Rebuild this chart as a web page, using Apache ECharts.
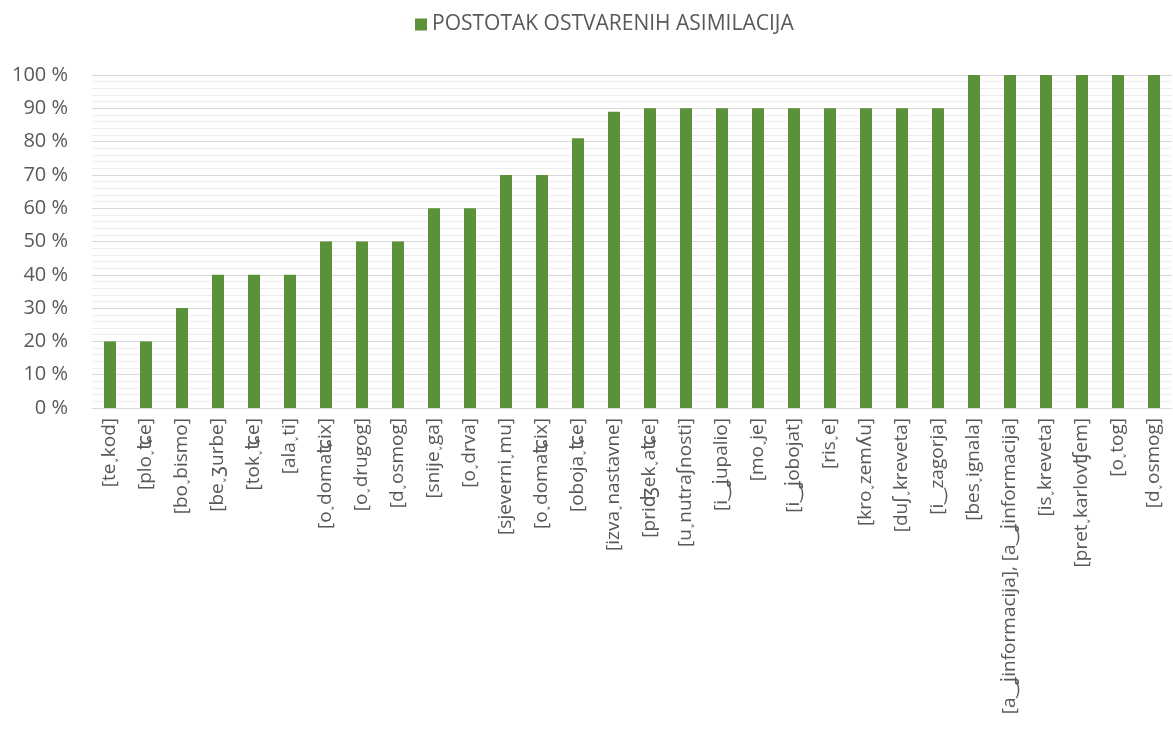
<!DOCTYPE html>
<html><head><meta charset="utf-8">
<script src="https://cdn.jsdelivr.net/npm/echarts@6/dist/echarts.min.js"></script>
<style>html,body{margin:0;padding:0;background:#fff}#c{width:1173px;height:731px}</style>
</head><body><div id="c"></div>
<script>
const categories = [
  "[te˯kod]","[plo˯ʨe]","[bo˯bismo]","[be˯ʒurbe]","[tok˯ʨe]","[ala˯ti]",
  "[o˯domaʨix]","[o˯drugog]","[d˯osmog]","[snije˯ga]","[o˯drva]","[sjeverni˯mu]",
  "[o˯domaʨix]","[oboja˯ʨe]","[izva˯nastavne]","[priʤek˯aʨe]","[u˯nutraʃnosti]","[i‿ʝupalio]",
  "[mo˯je]","[i‿ʝobojat]","[ris˯e]","[kro˯zemʎu]","[duʃ˯kreveta]","[i‿zagorja]",
  "[bes˯ignala]","[a‿ʝinformacija], [a‿ʝinformacija]","[is˯kreveta]","[pret˯karlovʧem]","[o˯tog]","[d˯osmog]"
];
const values = [20,20,30,40,40,40,50,50,50,60,60,70,70,81,89,90,90,90,90,90,90,90,90,90,100,100,100,100,100,100];
const seriesName = "POSTOTAK OSTVARENIH ASIMILACIJA";
const font = "'Open Sans', 'DejaVu Sans', sans-serif";
const chart = echarts.init(document.getElementById('c'));
chart.setOption({
  animation:false,
  textStyle:{fontFamily:font},
  legend:{top:9,left:410,icon:'rect',itemWidth:12,itemHeight:12,itemGap:6,
    textStyle:{fontSize:21,color:'#595959',fontFamily:font},data:[seriesName]},
  grid:{left:92,right:1,top:75,bottom:323},
  xAxis:{type:'category',data:categories,
    axisLine:{lineStyle:{color:'#d9d9d9'}},axisTick:{show:false},
    axisLabel:{rotate:90,interval:0,fontSize:19,color:'#595959',fontFamily:font,margin:10}},
  yAxis:{type:'value',min:0,max:100,interval:10,
    axisLabel:{formatter:'{value} %',fontSize:20,color:'#595959',fontFamily:font,margin:24},
    axisLine:{show:false},axisTick:{show:false},
    splitLine:{lineStyle:{color:'#d9d9d9',width:1}},
    minorTick:{show:false,splitNumber:5},
    minorSplitLine:{show:true,lineStyle:{color:'#eeeeee',width:1}}},
  series:[{name:seriesName,type:'bar',data:values,barWidth:12,
    itemStyle:{color:'#5B9138'}}]
});
</script></body></html>
